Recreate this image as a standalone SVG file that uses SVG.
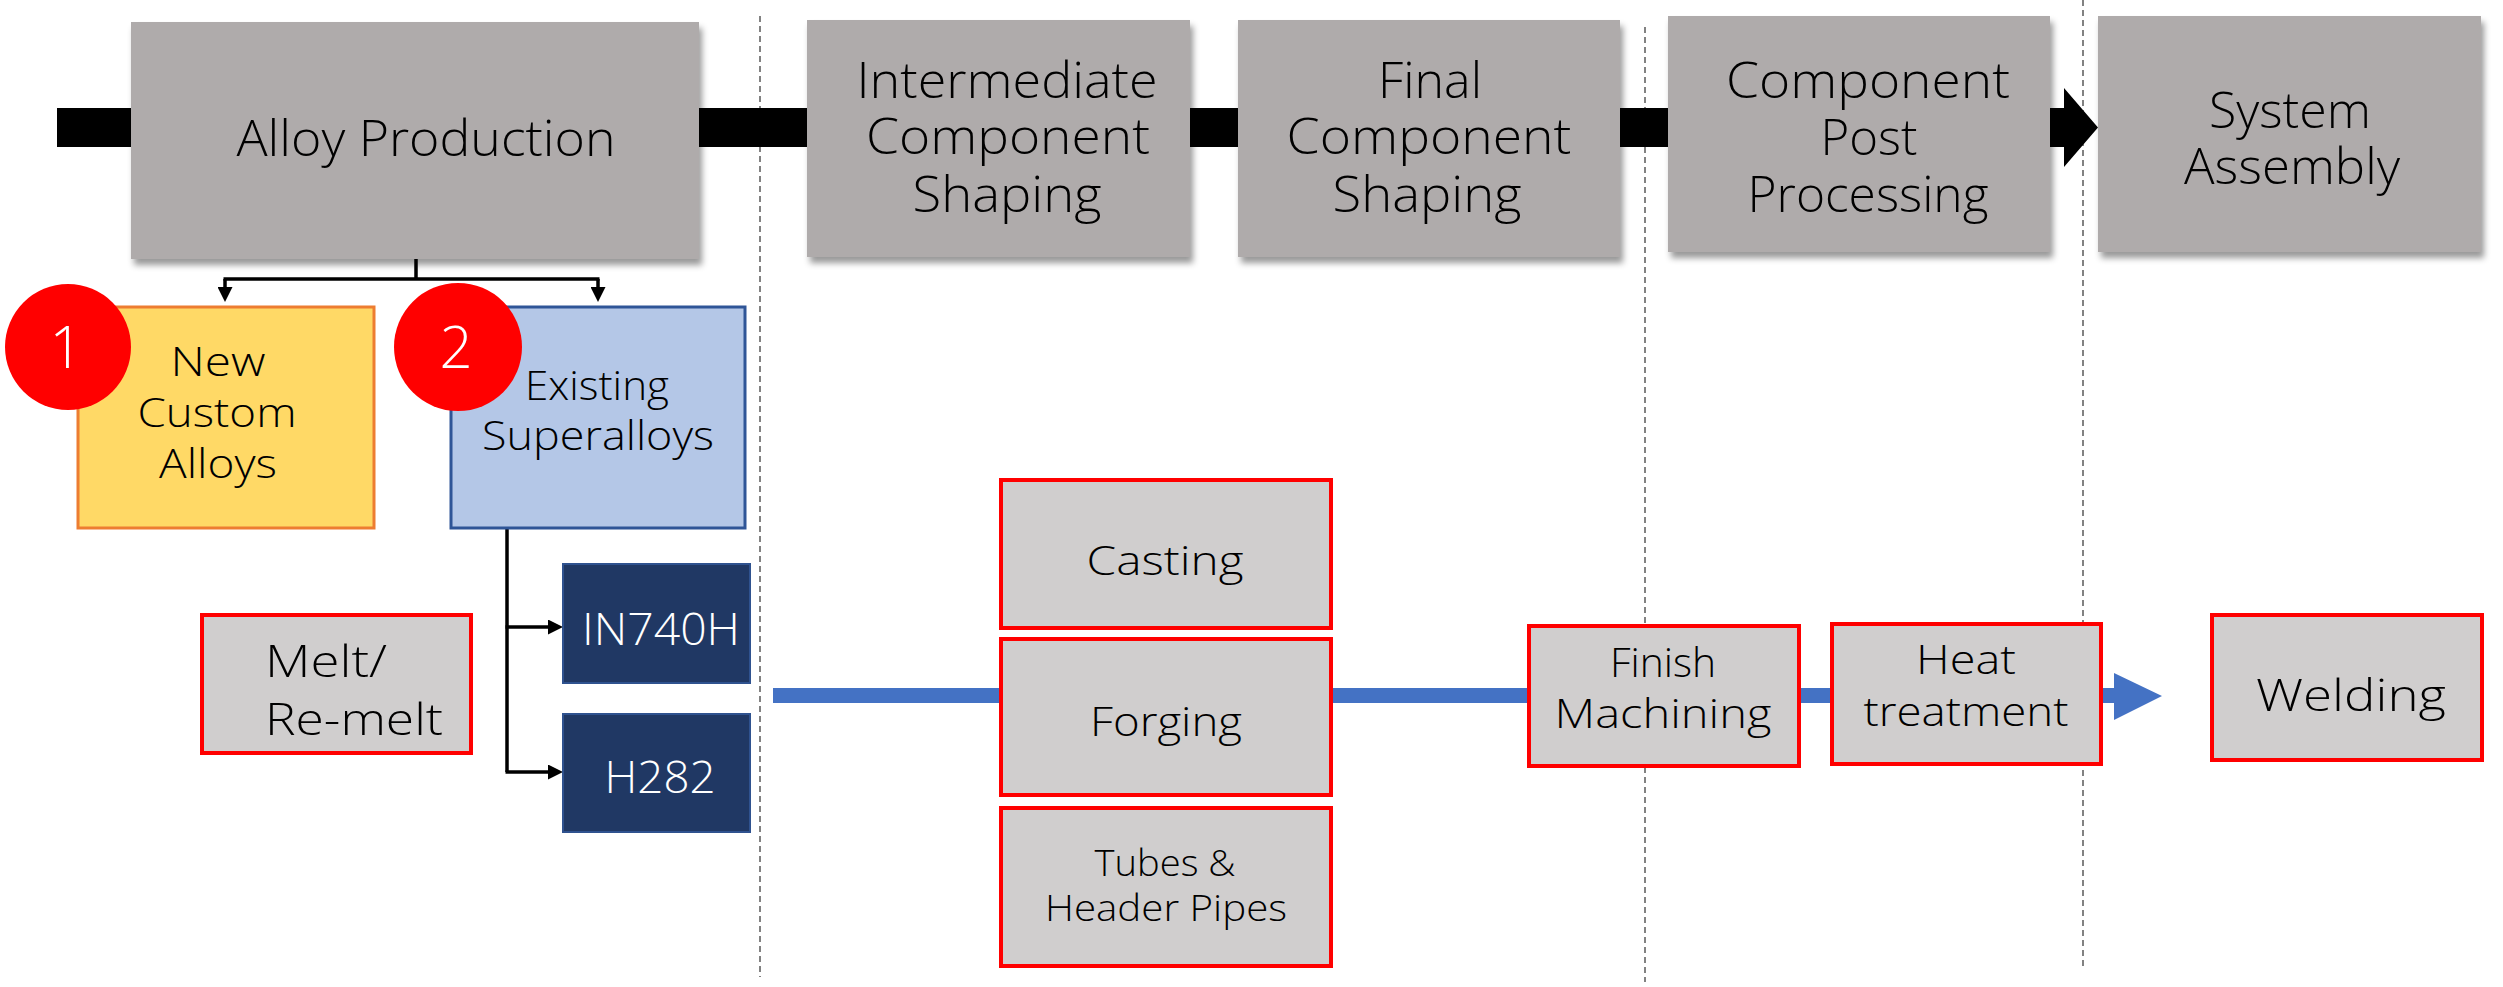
<svg xmlns="http://www.w3.org/2000/svg" width="2503" height="987" viewBox="0 0 2503 987">
  <defs>
    <filter id="shadow" x="-10%" y="-10%" width="125%" height="130%">
      <feDropShadow dx="3" dy="6" stdDeviation="3" flood-color="#000" flood-opacity="0.4"/>
    </filter>
    <marker id="head" viewBox="0 0 10 10" refX="0" refY="5" markerWidth="15" markerHeight="15" markerUnits="userSpaceOnUse" orient="auto">
      <path d="M0,0 L10,5 L0,10 Z" fill="#000"/>
    </marker>
    <style>
      .stage { fill: #afabab; filter: url(#shadow); }
      .proc { fill: #d0cece; stroke: #ff0000; stroke-width: 4; }
      .grade { fill: #203864; stroke: #2f528f; stroke-width: 2; }
      .divider { stroke: #595959; stroke-width: 1.5; stroke-dasharray: 6 4; fill: none; }
      .link { stroke: #000; stroke-width: 3.5; fill: none; }
      .badge { fill: #ff0000; }
      text { font-family: "Open Sans", "Liberation Sans", sans-serif; font-weight: 300; fill: #000; text-anchor: middle; }
      .t49 { font-size: 49px; }
      .t41 { font-size: 41px; }
      .t45 { font-size: 45px; }
      .t36 { font-size: 36px; }
      .white { fill: #fff; }
      .num { font-size: 58px; fill: #fff; }
    </style>
  </defs>

  <!-- section dividers -->
  <g id="dividers">
    <line class="divider" x1="760" y1="16" x2="760" y2="977"/>
    <line class="divider" x1="1645" y1="27" x2="1645" y2="982"/>
    <line class="divider" x1="2083" y1="0" x2="2083" y2="966"/>
  </g>

  <!-- flow arrows and connectors -->
  <g id="connectors">
    <path d="M57,108 H2064 V88 L2098,127.5 L2064,167 V147 H57 Z" fill="#000"/>
    <path d="M773,688 H2114 V673 L2162,696 L2114,720 V703 H773 Z" fill="#4472c4"/>
    <path class="link" d="M416,259 V279 M223.5,279 H599.5"/>
    <path class="link" d="M225,279 V287" marker-end="url(#head)"/>
    <path class="link" d="M598,279 V287" marker-end="url(#head)"/>
    <path class="link" d="M507,528 V772"/>
    <path class="link" d="M505.5,627 H548" marker-end="url(#head)"/>
    <path class="link" d="M505.5,772 H548" marker-end="url(#head)"/>
  </g>

  <!-- main stages -->
  <g id="alloy-production">
    <rect class="stage" x="131" y="22" width="568" height="237"/>
    <text class="t49" x="426" y="156" textLength="379" lengthAdjust="spacingAndGlyphs">Alloy Production</text>
  </g>
  <g id="intermediate-shaping">
    <rect class="stage" x="807" y="20" width="383" height="237"/>
    <text class="t49" x="1007" y="98" textLength="301" lengthAdjust="spacingAndGlyphs">Intermediate</text>
    <text class="t49" x="1008" y="154" textLength="284" lengthAdjust="spacingAndGlyphs">Component</text>
    <text class="t49" x="1007" y="212" textLength="189" lengthAdjust="spacingAndGlyphs">Shaping</text>
  </g>
  <g id="final-shaping">
    <rect class="stage" x="1238" y="20" width="382" height="237"/>
    <text class="t49" x="1430" y="98" textLength="104" lengthAdjust="spacingAndGlyphs">Final</text>
    <text class="t49" x="1429" y="154" textLength="285" lengthAdjust="spacingAndGlyphs">Component</text>
    <text class="t49" x="1427" y="212" textLength="189" lengthAdjust="spacingAndGlyphs">Shaping</text>
  </g>
  <g id="post-processing">
    <rect class="stage" x="1668" y="16" width="382" height="236"/>
    <text class="t49" x="1868" y="98" textLength="284" lengthAdjust="spacingAndGlyphs">Component</text>
    <text class="t49" x="1869" y="155" textLength="97" lengthAdjust="spacingAndGlyphs">Post</text>
    <text class="t49" x="1868" y="212" textLength="241" lengthAdjust="spacingAndGlyphs">Processing</text>
  </g>
  <g id="system-assembly">
    <rect class="stage" x="2098" y="16" width="383" height="236"/>
    <text class="t49" x="2290" y="128" textLength="162" lengthAdjust="spacingAndGlyphs">System</text>
    <text class="t49" x="2292" y="184" textLength="216" lengthAdjust="spacingAndGlyphs">Assembly</text>
  </g>

  <!-- alloy options -->
  <g id="new-custom-alloys">
    <rect x="78" y="307" width="296" height="221" fill="#ffd966" stroke="#ed7d31" stroke-width="3"/>
    <text class="t41" x="218" y="376" textLength="95" lengthAdjust="spacingAndGlyphs">New</text>
    <text class="t41" x="217" y="427" textLength="159" lengthAdjust="spacingAndGlyphs">Custom</text>
    <text class="t41" x="218" y="478" textLength="118" lengthAdjust="spacingAndGlyphs">Alloys</text>
  </g>
  <g id="existing-superalloys">
    <rect x="451" y="307" width="294" height="221" fill="#b4c7e7" stroke="#2f5597" stroke-width="3"/>
    <text class="t41" x="597" y="400" textLength="144" lengthAdjust="spacingAndGlyphs">Existing</text>
    <text class="t41" x="598" y="450" textLength="232" lengthAdjust="spacingAndGlyphs">Superalloys</text>
  </g>
  <g id="badge-1">
    <circle class="badge" cx="68" cy="347" r="63"/>
    <text class="num" x="66" y="368">1</text>
  </g>
  <g id="badge-2">
    <circle class="badge" cx="458" cy="347" r="64"/>
    <text class="num" x="456" y="368">2</text>
  </g>

  <!-- alloy grades -->
  <g id="in740h">
    <rect class="grade" x="563" y="564" width="187" height="119"/>
    <text class="t45 white" x="661" y="645" textLength="158" lengthAdjust="spacingAndGlyphs">IN740H</text>
  </g>
  <g id="h282">
    <rect class="grade" x="563" y="714" width="187" height="118"/>
    <text class="t45 white" x="660" y="793" textLength="111" lengthAdjust="spacingAndGlyphs">H282</text>
  </g>

  <!-- process steps -->
  <g id="melt">
    <rect class="proc" x="202" y="615" width="269" height="138"/>
    <text class="t45" x="265" y="677" style="text-anchor:start" textLength="122" lengthAdjust="spacingAndGlyphs">Melt/</text>
    <text class="t45" x="265" y="735" style="text-anchor:start" textLength="178" lengthAdjust="spacingAndGlyphs">Re-melt</text>
  </g>
  <g id="casting">
    <rect class="proc" x="1001" y="480" width="330" height="148"/>
    <text class="t41" x="1165" y="575" textLength="157" lengthAdjust="spacingAndGlyphs">Casting</text>
  </g>
  <g id="forging">
    <rect class="proc" x="1001" y="639" width="330" height="156"/>
    <text class="t41" x="1166" y="736" textLength="152" lengthAdjust="spacingAndGlyphs">Forging</text>
  </g>
  <g id="tubes">
    <rect class="proc" x="1001" y="808" width="330" height="158"/>
    <text class="t36" x="1165" y="876" textLength="141" lengthAdjust="spacingAndGlyphs">Tubes &amp;</text>
    <text class="t36" x="1166" y="921" textLength="242" lengthAdjust="spacingAndGlyphs">Header Pipes</text>
  </g>
  <g id="finish-machining">
    <rect class="proc" x="1529" y="626" width="270" height="140"/>
    <text class="t41" x="1663" y="677" textLength="106" lengthAdjust="spacingAndGlyphs">Finish</text>
    <text class="t41" x="1663" y="728" textLength="217" lengthAdjust="spacingAndGlyphs">Machining</text>
  </g>
  <g id="heat-treatment">
    <rect class="proc" x="1832" y="624" width="269" height="140"/>
    <text class="t41" x="1966" y="674" textLength="100" lengthAdjust="spacingAndGlyphs">Heat</text>
    <text class="t41" x="1966" y="726" textLength="205" lengthAdjust="spacingAndGlyphs">treatment</text>
  </g>
  <g id="welding">
    <rect class="proc" x="2212" y="615" width="270" height="145"/>
    <text class="t45" x="2351" y="711" textLength="190" lengthAdjust="spacingAndGlyphs">Welding</text>
  </g>
</svg>
